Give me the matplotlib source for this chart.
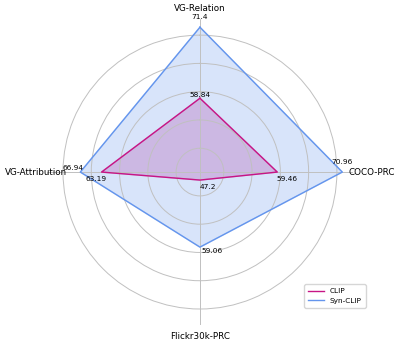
import numpy as np
import matplotlib
matplotlib.use("Agg")
import matplotlib.pyplot as plt

categories = ["VG-Relation", "COCO-PRC", "Flickr30k-PRC", "VG-Attribution"]
clip_vals = [58.84, 59.46, 47.2, 63.19]
syn_vals = [71.4, 70.96, 59.06, 66.94]
series_names = ["CLIP", "Syn-CLIP"]
colors = ["#C71585", "#6495ED"]

# label offsets in points (dx, dy) for each value label
clip_offsets = [(0, 0.5), (7, -2.5), (6, -3), (-3.6, -2.5)]
syn_offsets = [(0, 5.5), (0, 5), (9, -0.3), (-5, 0.5)]
# category label offsets (points) from the outer edge
cat_offsets = [(0, 8.3), (13.3, 0.4), (0, -7.3), (-7.6, 0.4)]

n = len(categories)
angles = [2 * np.pi * i / n for i in range(n)]

fig = plt.figure(figsize=(4.15, 3.46), dpi=100)
ax = fig.add_axes([0.1133, 0.0607, 0.737, 0.884], projection="polar")
ax.set_theta_offset(np.pi / 2)
ax.set_theta_direction(-1)

all_vals = clip_vals + syn_vals
rmin = min(all_vals) * 0.97
rmax = max(all_vals) * 1.02

for vals, col, name, offs in [(clip_vals, colors[0], series_names[0], clip_offsets),
                               (syn_vals, colors[1], series_names[1], syn_offsets)]:
    a = angles + angles[:1]
    v = vals + vals[:1]
    ax.plot(a, v, color=col, linewidth=1.0, label=name)
    ax.fill(a, v, color=col, alpha=0.25)
    for ang, val, (dx, dy) in zip(angles, vals, offs):
        ax.annotate(f"{val:g}", (ang, val), xytext=(dx, dy), textcoords="offset points",
                    ha="center", va="bottom" if dy > 0 else "top", fontsize=5.3)

ax.set_xlim(0, 2 * np.pi)
ax.set_ylim(rmin, rmax)
ax.set_yticks([50, 55, 60, 65, 70])
ax.set_yticklabels([])
ax.set_xticks(angles)
ax.set_xticklabels([])
for ang, cat, (dx, dy) in zip(angles, categories, cat_offsets):
    ax.annotate(cat, (ang, rmax), xytext=(dx, dy), textcoords="offset points",
                ha="center", va="center_baseline", fontsize=6.3, annotation_clip=False)
ax.spines["polar"].set_visible(False)
ax.grid(True, color="#c0c0c0", linewidth=0.7)

ax.legend(loc="lower right", bbox_to_anchor=(0.89, 0.1), bbox_transform=fig.transFigure,
          fontsize=5.3, frameon=True, handlelength=2.2, borderpad=0.5)

fig.savefig("out.png", dpi=100)
